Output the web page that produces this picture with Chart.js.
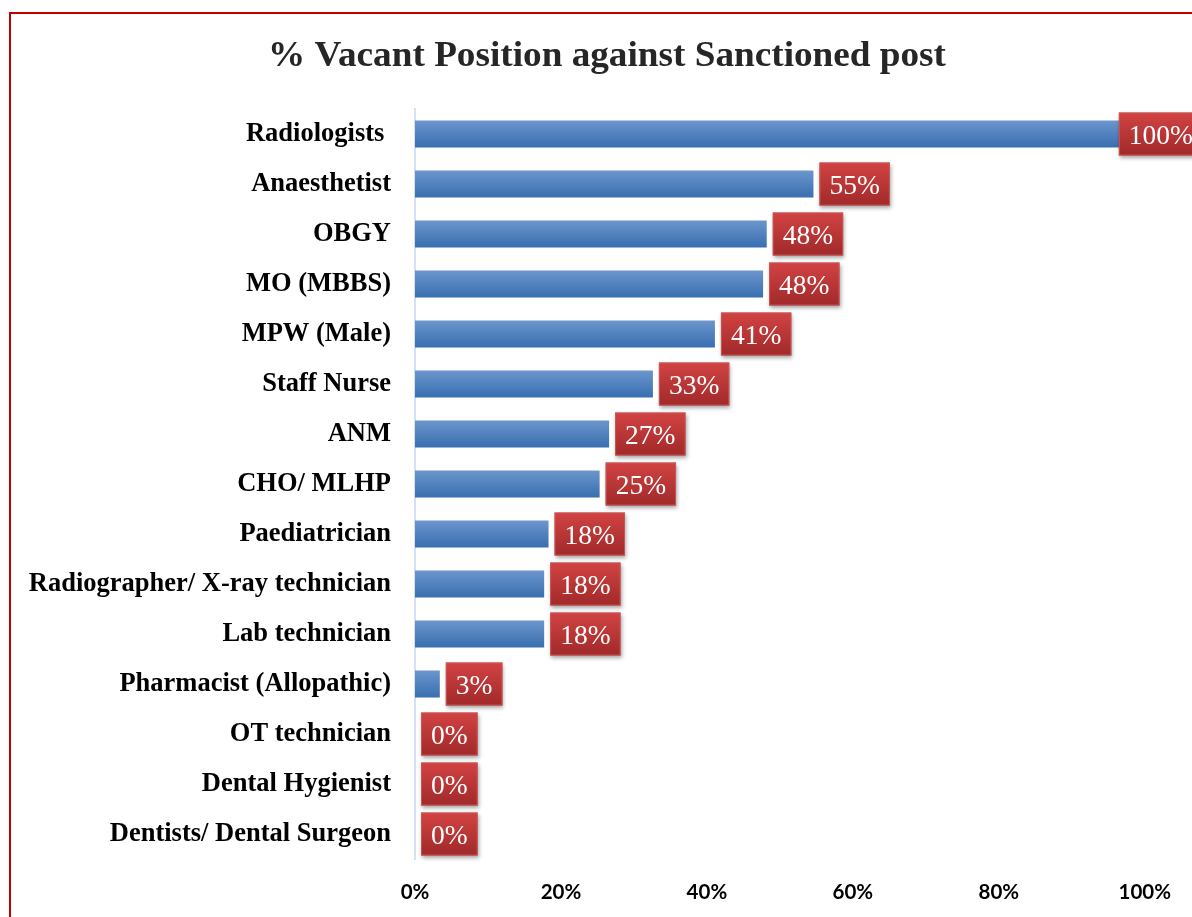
<!DOCTYPE html>
<html><head><meta charset="utf-8">
<script src="https://cdn.jsdelivr.net/npm/chart.js@4/dist/chart.umd.min.js"></script>
<style>
html,body{margin:0;padding:0;background:#fff;overflow:hidden}
#wrap{position:relative;width:1192px;height:917px;overflow:hidden}
#frame{position:absolute;left:9px;top:12px;width:1300px;height:1000px;border-left:2px solid #c00000;border-top:2px solid #c00000;pointer-events:none}
canvas{position:absolute;left:0;top:0}
</style></head>
<body><div id="wrap"><canvas id="c" width="1192" height="917"></canvas><div id="frame"></div></div>
<script>
const categories = ["Radiologists ", "Anaesthetist", "OBGY", "MO (MBBS)", "MPW (Male)", "Staff Nurse", "ANM", "CHO/ MLHP", "Paediatrician", "Radiographer/ X-ray technician", "Lab technician", "Pharmacist (Allopathic)", "OT technician", "Dental Hygienist", "Dentists/ Dental Surgeon"];
const values = [100, 54.6, 48.2, 47.7, 41.1, 32.6, 26.6, 25.3, 18.3, 17.7, 17.7, 3.4, 0, 0, 0];
const valueLabels = ["100%", "55%", "48%", "48%", "41%", "33%", "27%", "25%", "18%", "18%", "18%", "3%", "0%", "0%", "0%"];
const tickLabels = ["0%", "20%", "40%", "60%", "80%", "100%"];
const titleText = "% Vacant Position against Sanctioned post";

const titlePlugin = {
  id: 'titleText',
  afterDraw(chart) {
    const ctx = chart.ctx;
    ctx.save();
    ctx.font = 'bold 36px "Liberation Serif"';
    ctx.fillStyle = '#262626';
    ctx.textAlign = 'center';
    ctx.textBaseline = 'alphabetic';
    const w = ctx.measureText(titleText).width;
    const sx = 678 / w;
    ctx.translate(607, 66);
    ctx.scale(sx, 1);
    ctx.fillText(titleText, 0, 0);
    ctx.restore();
  }
};

const valueBoxes = {
  id: 'valueBoxes',
  afterDatasetsDraw(chart) {
    const ctx = chart.ctx;
    const meta = chart.getDatasetMeta(0);
    ctx.save();
    ctx.font = '27.5px "Liberation Serif"';
    meta.data.forEach((bar, i) => {
      const txt = valueLabels[i];
      const tw = ctx.measureText(txt).width;
      const bw = tw + 20, bh = 43;
      let bx = bar.x + 6;
      if (bx + bw > chart.width + 11) bx = chart.width + 11 - bw;
      const by = bar.y - bh / 2;
      ctx.save();
      ctx.shadowColor = 'rgba(0,0,0,0.35)';
      ctx.shadowBlur = 4;
      ctx.shadowOffsetX = 1;
      ctx.shadowOffsetY = 2;
      const g = ctx.createLinearGradient(0, by, 0, by + bh);
      g.addColorStop(0, '#d24343');
      g.addColorStop(1, '#a1292a');
      ctx.fillStyle = g;
      ctx.fillRect(bx, by, bw, bh);
      ctx.restore();
      ctx.strokeStyle = 'rgba(200,90,90,0.9)';
      ctx.lineWidth = 1;
      ctx.strokeRect(bx + 0.5, by + 0.5, bw - 1, bh - 1);
      ctx.fillStyle = '#ffffff';
      ctx.textBaseline = 'alphabetic';
      ctx.textAlign = 'left';
      ctx.fillText(txt, bx + 10, bar.y + 10);
    });
    ctx.restore();
  }
};

new Chart(document.getElementById('c'), {
  type: 'bar',
  data: {
    labels: categories,
    datasets: [{
      data: values,
      backgroundColor: (c) => {
        const ch = c.chart;
        if (!ch.chartArea || !ch.scales.y) return '#4f81bd';
        const y = ch.scales.y.getPixelForValue(c.dataIndex);
        const g = ch.ctx.createLinearGradient(0, y - 13.5, 0, y + 13.5);
        g.addColorStop(0, '#6c96cc');
        g.addColorStop(1, '#386eb0');
        return g;
      },
      borderWidth: 0,
      barPercentage: 0.54,
      categoryPercentage: 1
    }]
  },
  options: {
    indexAxis: 'y',
    responsive: false,
    animation: false,
    devicePixelRatio: 1,
    layout: { padding: { left: 0, right: 43, top: 109, bottom: 15 } },
    plugins: {
      legend: { display: false },
      tooltip: { enabled: false },
      title: { display: false }
    },
    scales: {
      x: {
        min: 0, max: 100,
        afterFit: (s) => { s.height = 43; },
        ticks: {
          stepSize: 20,
          padding: 21,
          color: '#000',
          font: { family: 'Lato', size: 20.5, weight: 'bold' },
          callback: (v, i) => tickLabels[i]
        },
        grid: { display: false, drawTicks: false },
        border: { display: false }
      },
      y: {
        afterFit: (s) => { s.width = 415; },
        ticks: {
          padding: 24,
          color: '#000',
          font: { family: '"Liberation Serif"', size: 26.5, weight: 'bold' }
        },
        grid: { display: false, drawTicks: false },
        border: { display: true, color: '#d5e0f2', width: 2 }
      }
    }
  },
  plugins: [valueBoxes, titlePlugin]
});
</script>
</body></html>
